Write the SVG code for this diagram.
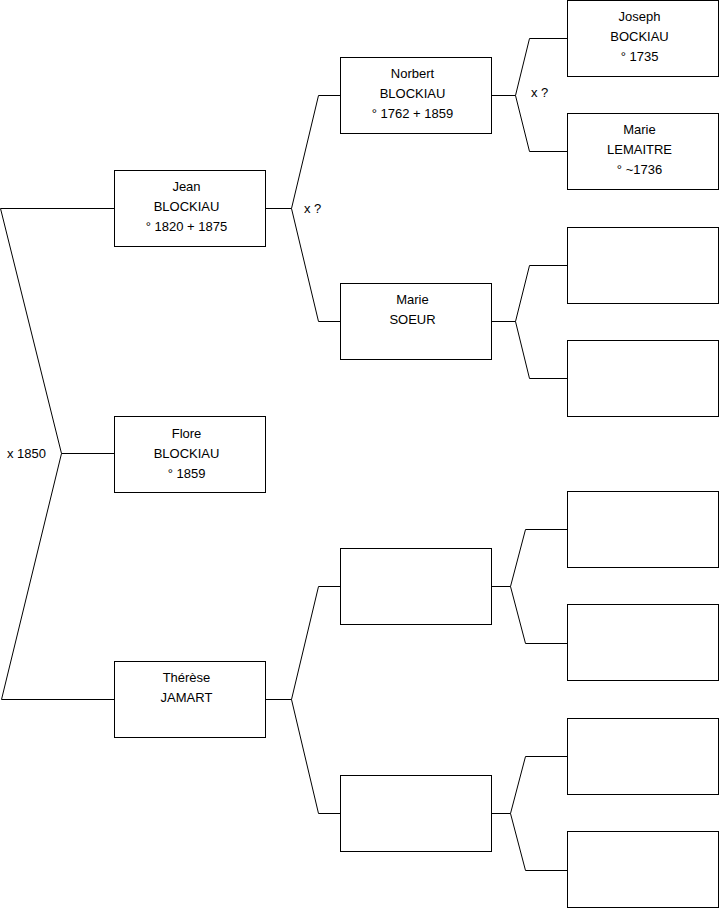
<svg xmlns="http://www.w3.org/2000/svg" width="719" height="908" viewBox="0 0 719 908">
<style>
.b{fill:#fff;stroke:#000;stroke-width:1}
.c{fill:none;stroke:#000;stroke-width:1}
text{font-family:"Liberation Sans",Arial,sans-serif;font-size:13px;fill:#000}
.m{text-anchor:middle}
</style>
<rect width="719" height="908" fill="#fff"/>
<g id="connectors">
<path class="c" d="M0.5,208.5H114.5M0.5,208.5L61.5,453.5H114.5M61.5,453.5L1.5,699.5H114.5"/>
<path class="c" d="M265.5,208.5H291.5L318.5,95.5H340.5M291.5,208.5L318.5,321.5H340.5"/>
<path class="c" d="M265.5,699.5H291.5L318.5,586.5H340.5M291.5,699.5L318.5,813.5H340.5"/>
<path class="c" d="M491.5,95.5H515.5L529.5,38.5H567.5M515.5,95.5L529.5,151.5H567.5"/>
<path class="c" d="M491.5,321.5H515.5L529.5,265.5H567.5M515.5,321.5L529.5,378.5H567.5"/>
<path class="c" d="M491.5,586.5H510.5L525.5,529.5H567.5M510.5,586.5L525.5,643.5H567.5"/>
<path class="c" d="M491.5,813.5H510.5L525.5,756.5H567.5M510.5,813.5L525.5,870.5H567.5"/>
<text x="7" y="457.5">x 1850</text>
<text x="304" y="212.5">x ?</text>
<text x="531" y="96.5">x ?</text>
</g>
<g id="jean"><rect class="b" x="114.5" y="170.5" width="151" height="76"/><text class="m" x="186.5" y="190.5">Jean</text><text class="m" x="186.5" y="210.5">BLOCKIAU</text><text class="m" x="186.5" y="230.5">° 1820 + 1875</text></g>
<g id="flore"><rect class="b" x="114.5" y="416.5" width="151" height="76"/><text class="m" x="186.5" y="437.5">Flore</text><text class="m" x="186.5" y="457.5">BLOCKIAU</text><text class="m" x="186.5" y="477.5">° 1859</text></g>
<g id="therese"><rect class="b" x="114.5" y="661.5" width="151" height="76"/><text class="m" x="186.5" y="681.5">Thérèse</text><text class="m" x="186.5" y="701.5">JAMART</text></g>
<g id="norbert"><rect class="b" x="340.5" y="57.5" width="151" height="76"/><text class="m" x="412.5" y="77.5">Norbert</text><text class="m" x="412.5" y="97.5">BLOCKIAU</text><text class="m" x="412.5" y="117.5">° 1762 + 1859</text></g>
<g id="marie-soeur"><rect class="b" x="340.5" y="283.5" width="151" height="76"/><text class="m" x="412.5" y="303.5">Marie</text><text class="m" x="412.5" y="323.5">SOEUR</text></g>
<g id="p3"><rect class="b" x="340.5" y="548.5" width="151" height="76"/></g>
<g id="p4"><rect class="b" x="340.5" y="775.5" width="151" height="76"/></g>
<g id="joseph"><rect class="b" x="567.5" y="0.5" width="151" height="76"/><text class="m" x="639.5" y="20.5">Joseph</text><text class="m" x="639.5" y="40.5">BOCKIAU</text><text class="m" x="639.5" y="60.5">° 1735</text></g>
<g id="marie-lemaitre"><rect class="b" x="567.5" y="113.5" width="151" height="76"/><text class="m" x="639.5" y="133.5">Marie</text><text class="m" x="639.5" y="153.5">LEMAITRE</text><text class="m" x="639.5" y="173.5">° ~1736</text></g>
<g id="g3"><rect class="b" x="567.5" y="227.5" width="151" height="76"/></g>
<g id="g4"><rect class="b" x="567.5" y="340.5" width="151" height="76"/></g>
<g id="g5"><rect class="b" x="567.5" y="491.5" width="151" height="76"/></g>
<g id="g6"><rect class="b" x="567.5" y="604.5" width="151" height="76"/></g>
<g id="g7"><rect class="b" x="567.5" y="718.5" width="151" height="76"/></g>
<g id="g8"><rect class="b" x="567.5" y="831.5" width="151" height="76"/></g>
</svg>
